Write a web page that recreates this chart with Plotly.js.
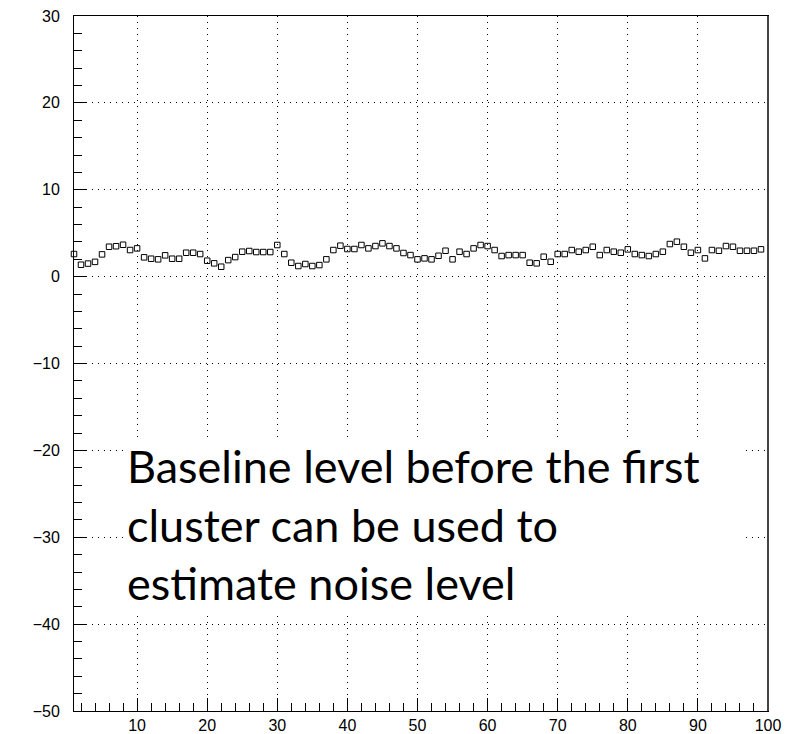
<!DOCTYPE html>
<html>
<head>
<meta charset="utf-8">
<script src="https://cdn.plot.ly/plotly-3.0.1.min.js"></script>
<style>html,body{margin:0;padding:0;background:#fff;}#chart{width:785px;height:734px;}</style>
</head>
<body>
<div id="chart"></div>
<script>
const channels = [];
for (let i = 1; i <= 99; i++) channels.push(i);
const baseline = [
  2.6, 1.37, 1.5, 1.7, 2.56, 3.44, 3.5, 3.67, 3.06, 3.25,
  2.22, 2.06, 1.99, 2.45, 2.06, 2.06, 2.75, 2.75, 2.6, 1.83,
  1.53, 1.14, 1.9, 2.25, 2.87, 2.95, 2.83, 2.83, 2.83, 3.64,
  2.6, 1.6, 1.22, 1.45, 1.22, 1.33, 1.99, 3.06, 3.56, 3.18,
  3.18, 3.64, 3.25, 3.52, 3.83, 3.52, 3.25, 2.72, 2.48, 1.99,
  2.1, 1.99, 2.4, 2.98, 1.99, 2.87, 2.6, 3.25, 3.64, 3.52,
  3.06, 2.37, 2.48, 2.48, 2.48, 1.6, 1.53, 2.29, 1.71, 2.6,
  2.6, 3.06, 2.87, 3.06, 3.44, 2.48, 3.06, 2.87, 2.75, 3.14,
  2.6, 2.48, 2.37, 2.6, 2.87, 3.75, 4.02, 3.44, 2.75, 3.06,
  2.1, 3.06, 2.98, 3.52, 3.44, 2.98, 2.98, 2.98, 3.14
];
const xTicks = [10, 20, 30, 40, 50, 60, 70, 80, 90, 100];
const yTicks = [-50, -40, -30, -20, -10, 0, 10, 20, 30];
const noteText = "Baseline level before the first<br>cluster can be used to<br>estimate noise level";

const tickFont = {family: "Liberation Sans, Arial, sans-serif", size: 16, color: "#000"};
const gridDash = "1px,5px";

const trace = {
  x: channels, y: baseline, type: "scatter", mode: "markers",
  cliponaxis: false,
  marker: {symbol: "square-open", size: 5.5, color: "#000", line: {width: 1, color: "#000"}},
  hoverinfo: "skip"
};

const L = 74, R = 768, T = 16, B = 711;
const px = v => (v - L) / (R - L);
const py = v => (B - v) / (B - T);

const layout = {
  width: 785, height: 734,
  margin: {l: L, r: 785 - R, t: T, b: 734 - B},
  paper_bgcolor: "#fff", plot_bgcolor: "#fff",
  showlegend: false,
  xaxis: {
    range: [1, 100], tickmode: "array", tickvals: xTicks, ticktext: xTicks.map(String),
    ticks: "inside", ticklen: 13, tickwidth: 1, tickcolor: "#000",
    minor: {dtick: 2, tick0: 0, ticks: "inside", ticklen: 8, tickwidth: 1, tickcolor: "#000", showgrid: false},
    showgrid: true, gridcolor: "#000", gridwidth: 1, griddash: gridDash,
    showline: true, linecolor: "#000", linewidth: 1, mirror: true,
    zeroline: false, tickfont: tickFont, ticklabelstandoff: 0
  },
  yaxis: {
    range: [-50, 30], tickmode: "array", tickvals: yTicks, ticktext: yTicks.map(v => v < 0 ? "\u2212" + Math.abs(v) : String(v)),
    ticks: "inside", ticklen: 13, tickwidth: 1, tickcolor: "#000",
    minor: {dtick: 2, tick0: 0, ticks: "inside", ticklen: 8, tickwidth: 1, tickcolor: "#000", showgrid: false},
    showgrid: true, gridcolor: "#000", gridwidth: 1, griddash: gridDash,
    showline: true, linecolor: "#000", linewidth: 1, mirror: true,
    zeroline: false, tickfont: tickFont, ticklabelstandoff: 10
  },
  shapes: [
    {type: "rect", xref: "paper", yref: "paper", x0: px(124), x1: px(745), y0: py(612), y1: py(441),
     fillcolor: "#fff", line: {width: 0}, layer: "above"},
    {type: "line", xref: "paper", yref: "paper", x0: 1, x1: 1, y0: 0, y1: 1, line: {color: "#444", width: 2}}
  ],
  annotations: [{
    text: noteText, xref: "paper", yref: "paper",
    x: px(127), y: py(524), xanchor: "left", yanchor: "middle",
    align: "left", borderpad: 0, borderwidth: 0, showarrow: false,
    font: {family: "Lato, Noto Sans, sans-serif", size: 45, color: "#000"}
  }]
};

Plotly.newPlot("chart", [trace], layout, {staticPlot: true, displayModeBar: false});
</script>
</body>
</html>
